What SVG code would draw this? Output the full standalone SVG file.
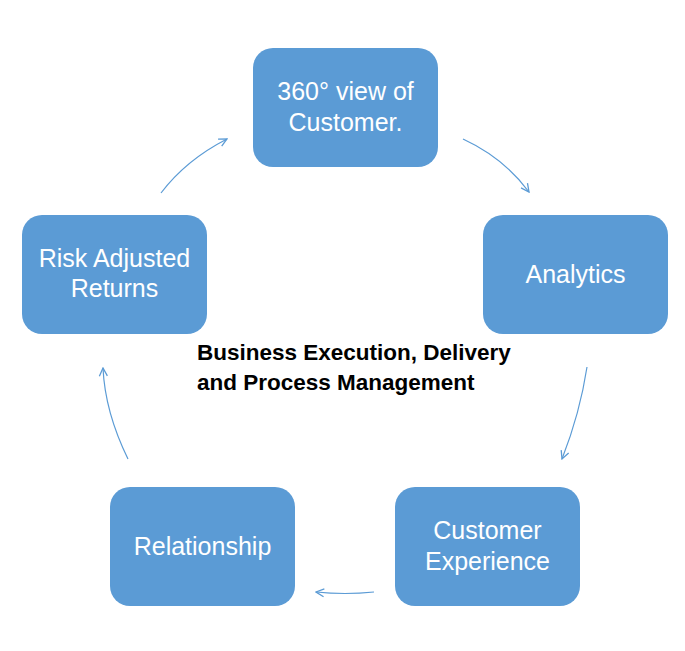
<svg xmlns="http://www.w3.org/2000/svg" width="685" height="651" viewBox="0 0 685 651">
<style>
.box{fill:#5b9bd5;}
.t{font-family:"Liberation Sans",Arial,sans-serif;font-size:25px;fill:#ffffff;text-anchor:middle;}
.c{font-family:"Liberation Sans",Arial,sans-serif;font-size:22.5px;font-weight:bold;fill:#000000;}
.a{fill:none;stroke:#5b9bd5;stroke-width:1.2;}
</style>
<defs>
<marker id="ah" viewBox="0 0 10 10" refX="9" refY="5" markerWidth="10" markerHeight="10" markerUnits="userSpaceOnUse" orient="auto">
<path d="M1,1 L9,5 L1,9" fill="none" stroke="#5b9bd5" stroke-width="1.3"/>
</marker>
</defs>
<rect width="685" height="651" fill="#ffffff"/>
<g id="connectors">
<path class="a" d="M161,193 Q186,160 227,139" marker-end="url(#ah)"/>
<path class="a" d="M463,139 Q504,158 529,192" marker-end="url(#ah)"/>
<path class="a" d="M587,367 Q580,413 562,459" marker-end="url(#ah)"/>
<path class="a" d="M374,592 Q345,595 316,592" marker-end="url(#ah)"/>
<path class="a" d="M128,459 Q105,412 103,368" marker-end="url(#ah)"/>
</g>
<g id="node-360">
<rect class="box" x="253" y="48" width="185" height="119" rx="20"/>
<text class="t" x="345.5" y="100">360° view of</text>
<text class="t" x="345.5" y="131">Customer.</text>
</g>
<g id="node-analytics">
<rect class="box" x="483" y="215" width="185" height="119" rx="20"/>
<text class="t" x="575.5" y="283">Analytics</text>
</g>
<g id="node-customer-experience">
<rect class="box" x="395" y="487" width="185" height="119" rx="20"/>
<text class="t" x="487.5" y="539">Customer</text>
<text class="t" x="487.5" y="570">Experience</text>
</g>
<g id="node-relationship">
<rect class="box" x="110" y="487" width="185" height="119" rx="20"/>
<text class="t" x="202.5" y="555">Relationship</text>
</g>
<g id="node-risk">
<rect class="box" x="22" y="215" width="185" height="119" rx="20"/>
<text class="t" x="114.5" y="267">Risk Adjusted</text>
<text class="t" x="114.5" y="297">Returns</text>
</g>
<g id="center-label">
<text class="c" x="197" y="360">Business Execution, Delivery</text>
<text class="c" x="197" y="390">and Process Management</text>
</g>
</svg>
